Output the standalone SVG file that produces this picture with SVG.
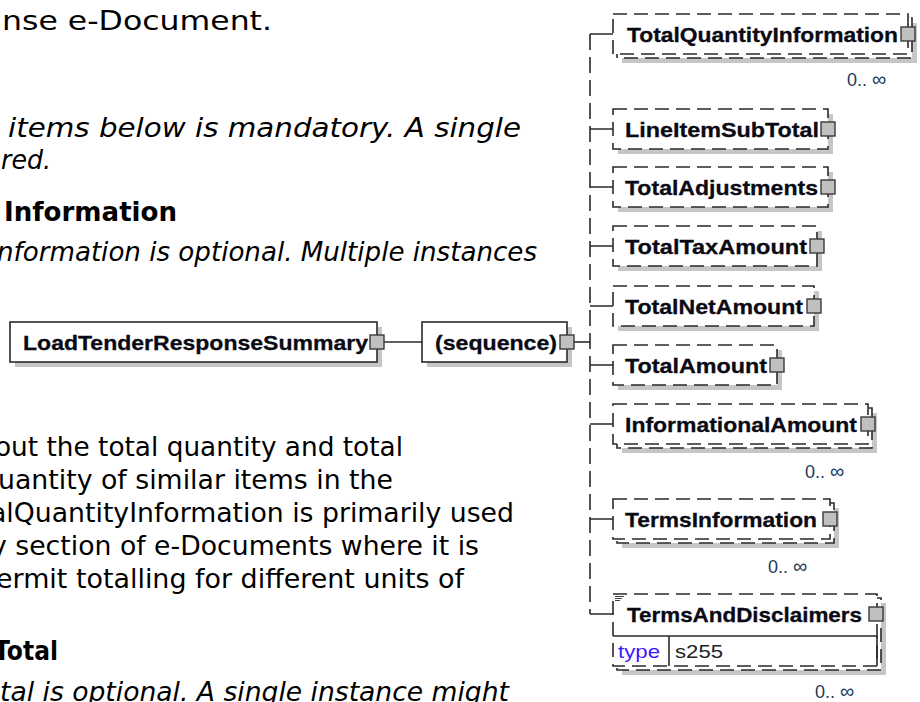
<svg xmlns="http://www.w3.org/2000/svg" width="920" height="702" viewBox="0 0 920 702">
<style>
.bg{fill:#fff}
.box{fill:#fff;stroke:#2a2a2a;stroke-width:1.6}
.dbox{fill:#fff;stroke:#2a2a2a;stroke-width:1.6;stroke-dasharray:14 7}
.sh{fill:#c6c6c6}
.sq{fill:#c0c0c0;stroke:#3a3a3a;stroke-width:1.4}
.lbl{font-family:"Liberation Sans",Arial,sans-serif;font-weight:bold;font-size:21px;fill:#0a0a14;stroke:#0a0a14;stroke-width:0.3}
.occ{font-family:"Liberation Sans",Arial,sans-serif;font-size:18px;fill:#24385b}
.inf{font-size:20px}
.attr{font-family:"Liberation Sans",Arial,sans-serif;font-size:19px;fill:#222}
.tp{fill:#3a1aff}
.body{font-family:"DejaVu Sans",Verdana,sans-serif;font-size:27px;fill:#000}
.it{font-style:italic}
.b{font-weight:bold}
.conn{stroke:#2a2a2a;stroke-width:1.6;fill:none}
.spine{stroke:#2a2a2a;stroke-width:1.6;fill:none;stroke-dasharray:16 7}
.doc{stroke:#444;stroke-width:1}
</style>
<rect class="bg" x="0" y="0" width="920" height="702"/>

<g id="text">
<text class="body" x="2" y="30" textLength="270" lengthAdjust="spacingAndGlyphs">nse e-Document.</text>
<text class="body it" x="8" y="137" textLength="513" lengthAdjust="spacingAndGlyphs">items below is mandatory. A single</text>
<text class="body it" x="1" y="169" textLength="50" lengthAdjust="spacingAndGlyphs">red.</text>
<text class="body b" x="4" y="221" textLength="173" lengthAdjust="spacingAndGlyphs">Information</text>
<text class="body it" x="-3" y="261" textLength="540" lengthAdjust="spacingAndGlyphs">nformation is optional. Multiple instances</text>
<text class="body" x="-5" y="456" textLength="408" lengthAdjust="spacingAndGlyphs">out the total quantity and total</text>
<text class="body" x="-2" y="489" textLength="395" lengthAdjust="spacingAndGlyphs">uantity of similar items in the</text>
<text class="body" x="-10" y="522" textLength="524" lengthAdjust="spacingAndGlyphs">alQuantityInformation is primarily used</text>
<text class="body" x="-9" y="555" textLength="488" lengthAdjust="spacingAndGlyphs">y section of e-Documents where it is</text>
<text class="body" x="-4" y="588" textLength="468" lengthAdjust="spacingAndGlyphs">ermit totalling for different units of</text>
<text class="body b" x="-6" y="660" textLength="64" lengthAdjust="spacingAndGlyphs">Total</text>
<text class="body it" x="0" y="701" textLength="509" lengthAdjust="spacingAndGlyphs">tal is optional. A single instance might</text>
</g>

<g id="connectors">
<path class="conn" d="M384 342H422"/>
<path class="conn" d="M574 342H590"/>
<path class="spine" d="M590 34V614"/>
<path class="conn" d="M590 34H613M590 129H613M590 187H613M590 246H613M590 306H613M590 365H613M590 424H613M590 519H613M590 614H613"/>
</g>

<g id="LoadTenderResponseSummary">
<rect class="sh" x="15" y="327" width="367" height="40"/>
<rect class="box" x="10" y="322" width="367" height="40"/>
<text class="lbl" x="23" y="350" textLength="345" lengthAdjust="spacingAndGlyphs">LoadTenderResponseSummary</text>
<rect class="sq" x="370" y="335" width="14" height="14"/>
</g>

<g id="sequence">
<rect class="sh" x="427" y="327" width="145" height="40"/>
<rect class="box" x="422" y="322" width="145" height="40"/>
<text class="lbl" x="435" y="350" textLength="122" lengthAdjust="spacingAndGlyphs">(sequence)</text>
<rect class="sq" x="560" y="335" width="14" height="14"/>
</g>

<g id="TotalQuantityInformation">
<rect class="sh" x="622" y="23" width="295" height="40"/>
<rect class="dbox" x="617" y="18" width="295" height="40"/>
<rect class="dbox" x="613" y="14" width="295" height="40"/>
<text class="lbl" x="627" y="42" textLength="271" lengthAdjust="spacingAndGlyphs">TotalQuantityInformation</text>
<rect class="sq" x="901" y="27" width="14" height="14"/>
<text class="occ" x="847" y="86">0..<tspan class="inf" dx="5">∞</tspan></text>
</g>

<g id="LineItemSubTotal">
<rect class="sh" x="618" y="114" width="215" height="40"/>
<rect class="dbox" x="613" y="109" width="215" height="40"/>
<text class="lbl" x="625" y="137" textLength="194" lengthAdjust="spacingAndGlyphs">LineItemSubTotal</text>
<rect class="sq" x="821" y="122" width="14" height="14"/>
</g>

<g id="TotalAdjustments">
<rect class="sh" x="618" y="172" width="215" height="40"/>
<rect class="dbox" x="613" y="167" width="215" height="40"/>
<text class="lbl" x="625" y="195" textLength="193" lengthAdjust="spacingAndGlyphs">TotalAdjustments</text>
<rect class="sq" x="821" y="180" width="14" height="14"/>
</g>

<g id="TotalTaxAmount">
<rect class="sh" x="618" y="231" width="204" height="40"/>
<rect class="dbox" x="613" y="226" width="204" height="40"/>
<text class="lbl" x="625" y="254" textLength="182" lengthAdjust="spacingAndGlyphs">TotalTaxAmount</text>
<rect class="sq" x="810" y="239" width="14" height="14"/>
</g>

<g id="TotalNetAmount">
<rect class="sh" x="618" y="291" width="201" height="40"/>
<rect class="dbox" x="613" y="286" width="201" height="40"/>
<text class="lbl" x="625" y="314" textLength="178" lengthAdjust="spacingAndGlyphs">TotalNetAmount</text>
<rect class="sq" x="807" y="299" width="14" height="14"/>
</g>

<g id="TotalAmount">
<rect class="sh" x="618" y="350" width="164" height="40"/>
<rect class="dbox" x="613" y="345" width="164" height="40"/>
<text class="lbl" x="625" y="373" textLength="142" lengthAdjust="spacingAndGlyphs">TotalAmount</text>
<rect class="sq" x="770" y="358" width="14" height="14"/>
</g>

<g id="InformationalAmount">
<rect class="sh" x="622" y="413" width="255" height="40"/>
<rect class="dbox" x="617" y="408" width="255" height="40"/>
<rect class="dbox" x="613" y="404" width="255" height="40"/>
<text class="lbl" x="625" y="432" textLength="232" lengthAdjust="spacingAndGlyphs">InformationalAmount</text>
<rect class="sq" x="861" y="417" width="14" height="14"/>
<text class="occ" x="805" y="478">0..<tspan class="inf" dx="5">∞</tspan></text>
</g>

<g id="TermsInformation">
<rect class="sh" x="622" y="508" width="217" height="40"/>
<rect class="dbox" x="617" y="503" width="217" height="40"/>
<rect class="dbox" x="613" y="499" width="217" height="40"/>
<text class="lbl" x="625" y="527" textLength="192" lengthAdjust="spacingAndGlyphs">TermsInformation</text>
<rect class="sq" x="823" y="512" width="14" height="14"/>
<text class="occ" x="768" y="573">0..<tspan class="inf" dx="5">∞</tspan></text>
</g>

<g id="TermsAndDisclaimers">
<rect class="sh" x="622" y="603" width="264" height="72"/>
<rect class="dbox" x="617" y="598" width="264" height="72"/>
<rect class="dbox" x="613" y="594" width="264" height="72"/>
<path class="doc" d="M615 596.5H624M615 598.5H622M615 600.5H620"/>
<text class="lbl" x="627" y="622" textLength="235" lengthAdjust="spacingAndGlyphs">TermsAndDisclaimers</text>
<rect class="sq" x="869" y="607" width="14" height="14"/>
<path class="conn" d="M613 636H877M669 636V666M877 636V666"/>
<text class="attr tp" x="618" y="658" textLength="42" lengthAdjust="spacingAndGlyphs">type</text>
<text class="attr" x="675" y="658" textLength="48" lengthAdjust="spacingAndGlyphs">s255</text>
<text class="occ" x="815" y="698">0..<tspan class="inf" dx="5">∞</tspan></text>
</g>
</svg>
